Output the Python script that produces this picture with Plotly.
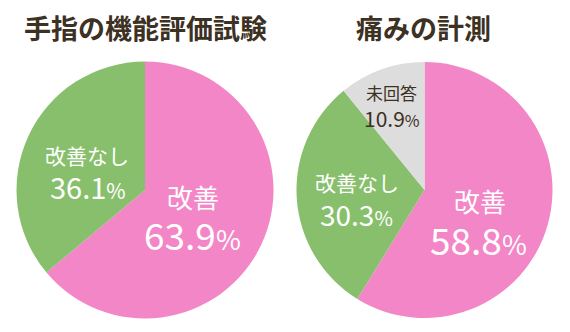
import plotly.graph_objects as go

W, H = 570, 332

left_title = "手指の機能評価試験"
left_labels = ["改善", "改善なし"]
left_values = [63.9, 36.1]

right_title = "痛みの計測"
right_labels = ["改善", "改善なし", "未回答"]
right_values = [58.8, 30.3, 10.9]

PINK = "#F386C6"
GREEN = "#88BF6D"
GRAY = "#DDDDDD"
BROWN = "#3C3122"
colors = {"改善": PINK, "改善なし": GREEN, "未回答": GRAY}
FONT = "Noto Sans CJK JP"

def px(x, y):
    return x / W, 1 - y / H

fig = go.Figure()
fig.add_trace(go.Pie(
    labels=left_labels, values=left_values, sort=False, direction="clockwise",
    rotation=0, textinfo="none", hoverinfo="label+percent",
    marker=dict(colors=[colors[l] for l in left_labels], line=dict(width=0)),
    domain=dict(x=[16.5 / W, 273.5 / W], y=[1 - 319.5 / H, 1 - 60.5 / H]),
    showlegend=False,
))
fig.add_trace(go.Pie(
    labels=right_labels, values=right_values, sort=False, direction="clockwise",
    rotation=0, textinfo="none", hoverinfo="label+percent",
    marker=dict(colors=[colors[l] for l in right_labels], line=dict(width=0)),
    domain=dict(x=[296.5 / W, 552.5 / W], y=[1 - 319.5 / H, 1 - 60.5 / H]),
    showlegend=False,
))

def pct(v, psize):
    return f"{v:.1f}<span style='font-size:{psize}px'>%</span>"

annots = []
def add(text, x, y, size, color="white", weight=400):
    ax, ay = px(x, y)
    annots.append(dict(text=text, x=ax, y=ay, xref="paper", yref="paper",
                       showarrow=False, xanchor="center", yanchor="middle",
                       font=dict(family=FONT, size=size, color=color, weight=weight)))

add(left_title, 145, 27, 27, BROWN, 700)
add(right_title, 423, 27, 27, BROWN, 700)

# left pie labels
add(left_labels[1], 87, 155, 21)
add(pct(left_values[1], 21), 88, 186, 29)
add(left_labels[0], 193, 196, 26)
add(pct(left_values[0], 27), 192, 234, 37)

# right pie labels
add(right_labels[2], 391, 92, 17, BROWN)
add(pct(right_values[2], 16), 392, 118, 21, BROWN)
add(right_labels[1], 357, 182, 21)
add(pct(right_values[1], 20), 357, 214, 28)
add(right_labels[0], 480, 200, 26)
add(pct(right_values[0], 27), 479, 239, 37)

fig.update_layout(
    width=W, height=H, margin=dict(l=0, r=0, t=0, b=0),
    paper_bgcolor="white", plot_bgcolor="white",
    annotations=annots,
)
fig.write_html("out.html")
